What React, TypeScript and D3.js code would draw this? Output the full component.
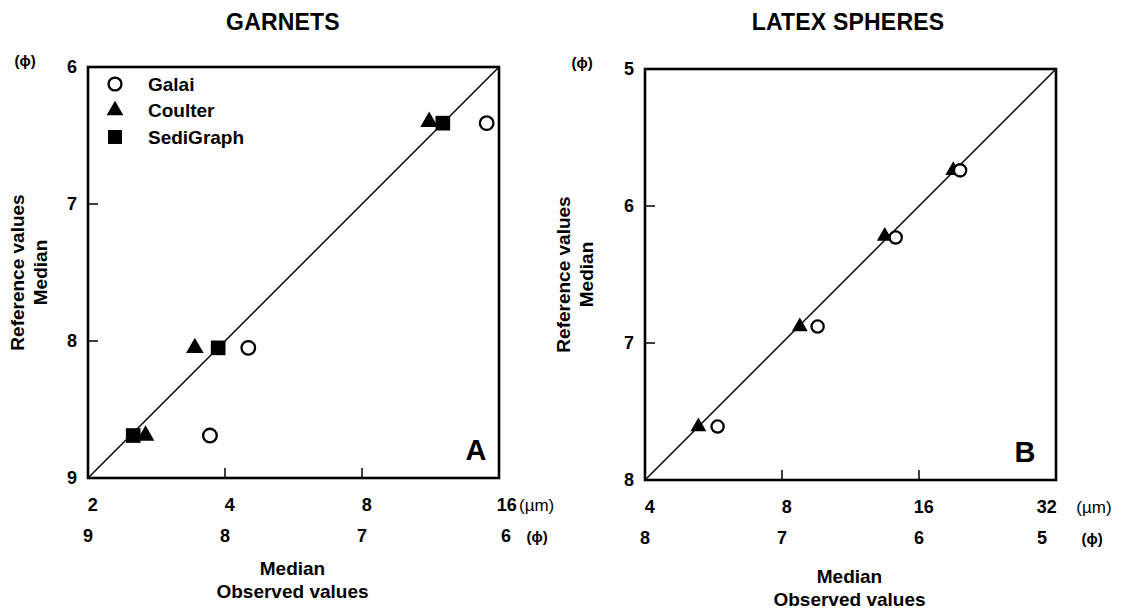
import React from "react";
import * as d3 from "d3";

// observed vs reference medians, both in phi units
const garnetGalaiObs = [6.09, 7.83, 8.11];
const garnetGalaiRef = [6.41, 8.05, 8.69];
const garnetCoulterObs = [6.51, 8.22, 8.58];
const garnetCoulterRef = [6.4, 8.05, 8.69];
const garnetSediObs = [6.41, 8.05, 8.67];
const garnetSediRef = [6.41, 8.05, 8.69];

const latexGalaiObs = [5.7, 6.17, 6.74, 7.47];
const latexGalaiRef = [5.74, 6.23, 6.88, 7.61];
const latexCoulterObs = [5.75, 6.25, 6.87, 7.61];
const latexCoulterRef = [5.74, 6.22, 6.88, 7.61];

const garnetUm = [2, 4, 8, 16];
const garnetPhi = [9, 8, 7, 6];
const latexUm = [4, 8, 16, 32];
const latexPhi = [8, 7, 6, 5];

const legendNames = ["Galai", "Coulter", "SediGraph"];

const FONT = "'Liberation Sans', Arial, Helvetica, sans-serif";
const PHI = "\u03D5";

const umToPhi = (um: number) => -Math.log2(um / 1000);

type Series = { kind: string; obs: number[]; ref: number[] };

function Marker({ kind, x, y, scale = 1 }: { kind: string; x: number; y: number; scale?: number }) {
  if (kind === "circle") {
    return <circle cx={x} cy={y} r={6.8 * scale} fill="#fff" stroke="#000" strokeWidth={2.3} />;
  }
  const type = kind === "triangle" ? d3.symbolTriangle : d3.symbolSquare;
  const size = kind === "triangle" ? 135 * scale * scale : 215 * scale * scale;
  return <path d={d3.symbol(type, size)() || ""} transform={`translate(${x},${y})`} fill="#000" />;
}

function Panel(props: {
  left: number;
  top: number;
  size: number;
  title: string;
  titleX: number;
  letter: string;
  letterDx: number;
  phiRange: [number, number];
  umTicks: number[];
  phiTicks: number[];
  series: Series[];
  markerScale: number;
  yTitleX: number;
  xTitleY: number;
  lastDx: number;
  umUnitX: number;
  umAnchor: string;
  phiUnitX: number;
  legend?: boolean;
}) {
  const { left, top, size, phiRange } = props;
  const right = left + size;
  const bottom = top + size;
  const [lo, hi] = phiRange; // lo = top/right (coarse), hi = bottom/left (fine)
  const x = d3.scaleLinear().domain([hi, lo]).range([left, right]);
  const y = d3.scaleLinear().domain([lo, hi]).range([top, bottom]);
  const yTicks = d3.range(lo, hi + 1);
  const innerY = yTicks.slice(1, -1);
  const innerX = props.phiTicks.slice(1, -1);
  const n = props.umTicks.length;
  const labelX = (v: number, i: number) => x(v) + (i === n - 1 ? props.lastDx : 0);
  const row1 = bottom + 33;
  const row2 = bottom + 64;
  const yMid = (top + bottom) / 2;

  return (
    <g fontFamily={FONT} fontWeight="bold" fill="#000">
      <text x={props.titleX} y={30} fontSize={23} textAnchor="middle" letterSpacing={0.2}>
        {props.title}
      </text>

      {/* diagonal 1:1 line */}
      <line x1={x(hi)} y1={y(hi)} x2={x(lo)} y2={y(lo)} stroke="#000" strokeWidth={1.4} />

      {/* frame */}
      <rect x={left} y={top} width={size} height={size} fill="none" stroke="#000" strokeWidth={2.6} />

      {innerY.map((t) => (
        <line key={"yt" + t} x1={left} x2={left + 10} y1={y(t)} y2={y(t)} stroke="#000" strokeWidth={1.5} />
      ))}
      {innerX.map((t) => (
        <line key={"xt" + t} x1={x(t)} x2={x(t)} y1={bottom} y2={bottom - 10} stroke="#000" strokeWidth={1.5} />
      ))}

      {yTicks.map((t) => (
        <text key={"yl" + t} x={left - 11} y={y(t)} dy="0.36em" fontSize={18} textAnchor="end">
          {t}
        </text>
      ))}
      <text x={left - 63} y={top - 6} dy="0.35em" fontSize={15} textAnchor="middle">
        ({PHI})
      </text>

      <g transform={`translate(${props.yTitleX},${yMid}) rotate(-90)`} fontSize={19}>
        <text x={0} y={0} dy="0.35em" textAnchor="middle">Reference values</text>
        <text x={0} y={23} dy="0.35em" textAnchor="middle">Median</text>
      </g>

      {props.umTicks.map((u, i) => (
        <text key={"um" + u} x={labelX(umToPhi(u), i)} y={row1} fontSize={18} textAnchor="middle">
          {u}
        </text>
      ))}
      <text x={props.umUnitX} y={row1} fontSize={17} fontWeight="normal" textAnchor={props.umAnchor}>
        (µm)
      </text>
      {props.phiTicks.map((p, i) => (
        <text key={"ph" + p} x={labelX(p, i) + (i === n - 1 && props.lastDx > 0 ? 4 : 0)} y={row2} fontSize={18} textAnchor="middle">
          {p}
        </text>
      ))}
      <text x={props.phiUnitX} y={row2} fontSize={15} textAnchor="middle">
        ({PHI})
      </text>

      <text x={(left + right) / 2 - 1} y={props.xTitleY} fontSize={19} textAnchor="middle">Median</text>
      <text x={(left + right) / 2 - 1} y={props.xTitleY + 23} fontSize={19} textAnchor="middle">Observed values</text>

      <text x={right + props.letterDx} y={bottom - 18} fontSize={29} textAnchor="middle">
        {props.letter}
      </text>

      {props.series.map((s) =>
        s.obs.map((o, i) => (
          <Marker key={s.kind + i} kind={s.kind} x={x(o)} y={y(s.ref[i])} scale={props.markerScale} />
        ))
      )}

      {props.legend &&
        ["circle", "triangle", "square"].map((k, i) => (
          <g key={k}>
            <Marker kind={k} x={left + 27} y={top + 17 + i * 26.5} scale={0.95} />
            <text x={left + 60} y={top + 17 + i * 26.5} dy="0.36em" fontSize={19}>
              {legendNames[i]}
            </text>
          </g>
        ))}
    </g>
  );
}

export default function App() {
  const garnetSeries: Series[] = [
    { kind: "triangle", obs: garnetCoulterObs, ref: garnetCoulterRef },
    { kind: "square", obs: garnetSediObs, ref: garnetSediRef },
    { kind: "circle", obs: garnetGalaiObs, ref: garnetGalaiRef },
  ];
  const latexSeries: Series[] = [
    { kind: "triangle", obs: latexCoulterObs, ref: latexCoulterRef },
    { kind: "circle", obs: latexGalaiObs, ref: latexGalaiRef },
  ];
  return (
    <svg
      width={1143}
      height={614}
      style={{ position: "absolute", left: 0, top: 0, background: "#fff" }}
    >
      <rect width={1143} height={614} fill="#fff" />
      <Panel
        left={88}
        top={67}
        size={411}
        title="GARNETS"
        titleX={283}
        letter="A"
        letterDx={-23}
        phiRange={[6, 9]}
        umTicks={garnetUm}
        phiTicks={garnetPhi}
        series={garnetSeries}
        markerScale={1}
        yTitleX={17}
        xTitleY={575}
        lastDx={3}
        umUnitX={519}
        umAnchor="start"
        phiUnitX={537}
        legend
      />
      <Panel
        left={645}
        top={69}
        size={411}
        title="LATEX SPHERES"
        titleX={848}
        letter="B"
        letterDx={-31}
        phiRange={[5, 8]}
        umTicks={latexUm}
        phiTicks={latexPhi}
        series={latexSeries}
        markerScale={0.9}
        yTitleX={563}
        xTitleY={583}
        lastDx={-14}
        umUnitX={1094}
        umAnchor="middle"
        phiUnitX={1092}
      />
    </svg>
  );
}
